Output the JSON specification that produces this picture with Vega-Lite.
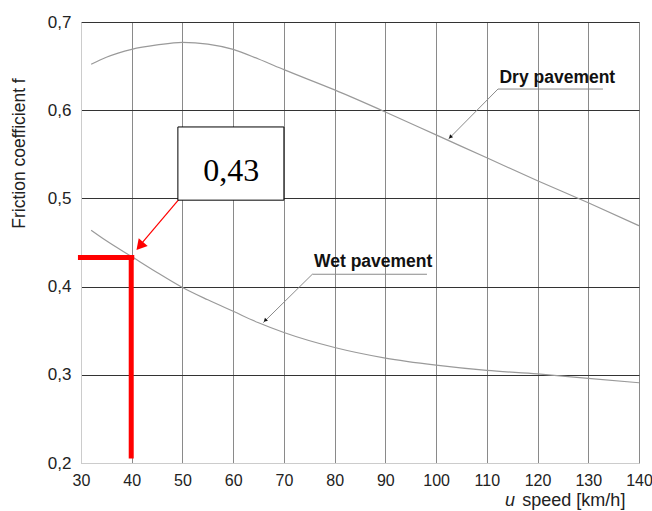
{
  "$schema": "https://vega.github.io/schema/vega-lite/v6.json",
  "width": 558,
  "height": 441,
  "autosize": {"type": "none"},
  "padding": {"left": 81, "top": 22, "right": 13, "bottom": 48},
  "background": "white",
  "config": {"view": {"stroke": "#999", "strokeWidth": 1}, "font": "Liberation Sans"},
  "datasets": {
    "curves": [
      {"speed": 32, "f": 0.652, "surface": "Dry pavement"},
      {"speed": 35, "f": 0.660, "surface": "Dry pavement"},
      {"speed": 40, "f": 0.669, "surface": "Dry pavement"},
      {"speed": 45, "f": 0.674, "surface": "Dry pavement"},
      {"speed": 50, "f": 0.677, "surface": "Dry pavement"},
      {"speed": 55, "f": 0.675, "surface": "Dry pavement"},
      {"speed": 60, "f": 0.669, "surface": "Dry pavement"},
      {"speed": 65, "f": 0.658, "surface": "Dry pavement"},
      {"speed": 70, "f": 0.646, "surface": "Dry pavement"},
      {"speed": 80, "f": 0.623, "surface": "Dry pavement"},
      {"speed": 90, "f": 0.598, "surface": "Dry pavement"},
      {"speed": 100, "f": 0.572, "surface": "Dry pavement"},
      {"speed": 110, "f": 0.546, "surface": "Dry pavement"},
      {"speed": 120, "f": 0.520, "surface": "Dry pavement"},
      {"speed": 130, "f": 0.495, "surface": "Dry pavement"},
      {"speed": 140, "f": 0.469, "surface": "Dry pavement"},
      {"speed": 32, "f": 0.464, "surface": "Wet pavement"},
      {"speed": 35, "f": 0.452, "surface": "Wet pavement"},
      {"speed": 40, "f": 0.434, "surface": "Wet pavement"},
      {"speed": 45, "f": 0.416, "surface": "Wet pavement"},
      {"speed": 50, "f": 0.399, "surface": "Wet pavement"},
      {"speed": 55, "f": 0.385, "surface": "Wet pavement"},
      {"speed": 60, "f": 0.372, "surface": "Wet pavement"},
      {"speed": 65, "f": 0.359, "surface": "Wet pavement"},
      {"speed": 70, "f": 0.348, "surface": "Wet pavement"},
      {"speed": 80, "f": 0.331, "surface": "Wet pavement"},
      {"speed": 90, "f": 0.319, "surface": "Wet pavement"},
      {"speed": 100, "f": 0.311, "surface": "Wet pavement"},
      {"speed": 110, "f": 0.305, "surface": "Wet pavement"},
      {"speed": 120, "f": 0.301, "surface": "Wet pavement"},
      {"speed": 130, "f": 0.296, "surface": "Wet pavement"},
      {"speed": 140, "f": 0.291, "surface": "Wet pavement"}
    ],
    "readout": [
      {"x": 29.4, "y": 0.433, "x2": 40.5, "y2": 0.433},
      {"x": 39.9, "y": 0.433, "x2": 39.9, "y2": 0.205}
    ],
    "pointer": [
      {"x": 49.3, "y": 0.499, "x2": 41.2, "y2": 0.444}
    ],
    "pointerHead": [
      {"x": 41.6, "y": 0.446}
    ],
    "leaders": [
      {"x": 112.2, "y": 0.624, "x2": 102.4, "y2": 0.567},
      {"x": 112.2, "y": 0.624, "x2": 132.9, "y2": 0.624},
      {"x": 75.6, "y": 0.414, "x2": 65.9, "y2": 0.359},
      {"x": 75.6, "y": 0.414, "x2": 98.2, "y2": 0.414}
    ],
    "leaderHeads": [
      {"x": 102.8, "y": 0.5695},
      {"x": 66.3, "y": 0.3615}
    ],
    "box": [
      {"x": 49.1, "y": 0.581, "x2": 70.0, "y2": 0.498, "label": "0,43", "cx": 59.6, "cy": 0.531}
    ],
    "labels": [
      {"x": 123.9, "y": 0.637, "text": "Dry pavement"},
      {"x": 87.6, "y": 0.428, "text": "Wet pavement"}
    ]
  },
  "layer": [
    {
      "data": {"name": "curves"},
      "mark": {"type": "line", "color": "#9a9a9a", "strokeWidth": 1.2, "interpolate": "monotone"},
      "encoding": {
        "x": {
          "field": "speed", "type": "quantitative",
          "scale": {"domain": [30, 140], "nice": false, "zero": false},
          "axis": {
            "values": [30, 40, 50, 60, 70, 80, 90, 100, 110, 120, 130, 140],
            "grid": true,
            "gridColor": {"condition": {"test": "datum.value == 30", "value": "#cccccc"}, "value": "#8a8a8a"},
            "gridWidth": 1,
            "domainColor": "#cccccc",
            "ticks": false,
            "labelFontSize": 16,
            "labelColor": "#222222",
            "labelPadding": 9,
            "labelFlush": false,
            "title": null
          }
        },
        "y": {
          "field": "f", "type": "quantitative",
          "scale": {"domain": [0.2, 0.7], "nice": false, "zero": false},
          "axis": {
            "values": [0.2, 0.3, 0.4, 0.5, 0.6, 0.7],
            "labelExpr": "replace(format(datum.value, '.1f'), '.', ',')",
            "grid": true,
            "gridColor": {"condition": {"test": "datum.value < 0.25", "value": "#cccccc"}, "value": "#333333"},
            "gridWidth": 1,
            "domainColor": "#cccccc",
            "ticks": false,
            "labelFontSize": 17,
            "labelColor": "#222222",
            "labelPadding": 10,
            "labelFlush": false,
            "title": "Friction coefficient f",
            "titleFontSize": 17.5,
            "titleFontWeight": "normal",
            "titleColor": "#222222",
            "titleX": -53,
            "titleY": 131
          }
        },
        "detail": {"field": "surface"}
      }
    },
    {
      "data": {"name": "readout"},
      "mark": {"type": "rule", "color": "#ff0000", "strokeWidth": 5},
      "encoding": {
        "x": {"field": "x", "type": "quantitative"},
        "y": {"field": "y", "type": "quantitative"},
        "x2": {"field": "x2"},
        "y2": {"field": "y2"}
      }
    },
    {
      "data": {"name": "pointer"},
      "mark": {"type": "rule", "color": "#ff0000", "strokeWidth": 1.2},
      "encoding": {
        "x": {"field": "x", "type": "quantitative"},
        "y": {"field": "y", "type": "quantitative"},
        "x2": {"field": "x2"},
        "y2": {"field": "y2"}
      }
    },
    {
      "data": {"name": "pointerHead"},
      "mark": {"type": "point", "shape": "triangle-up", "filled": true, "color": "#ff0000", "size": 140, "angle": 221, "opacity": 1},
      "encoding": {
        "x": {"field": "x", "type": "quantitative"},
        "y": {"field": "y", "type": "quantitative"}
      }
    },
    {
      "data": {"name": "leaders"},
      "mark": {"type": "rule", "color": "#8a8a8a", "strokeWidth": 1},
      "encoding": {
        "x": {"field": "x", "type": "quantitative"},
        "y": {"field": "y", "type": "quantitative"},
        "x2": {"field": "x2"},
        "y2": {"field": "y2"}
      }
    },
    {
      "data": {"name": "leaderHeads"},
      "mark": {"type": "point", "shape": "triangle-up", "filled": true, "color": "#111111", "size": 18, "angle": 225, "opacity": 1},
      "encoding": {
        "x": {"field": "x", "type": "quantitative"},
        "y": {"field": "y", "type": "quantitative"}
      }
    },
    {
      "data": {"name": "box"},
      "mark": {"type": "rect", "fill": "white", "stroke": "#000000", "strokeWidth": 1},
      "encoding": {
        "x": {"field": "x", "type": "quantitative"},
        "y": {"field": "y", "type": "quantitative"},
        "x2": {"field": "x2"},
        "y2": {"field": "y2"}
      }
    },
    {
      "data": {"name": "box"},
      "mark": {"type": "text", "font": "Liberation Serif", "fontSize": 32, "color": "#000000", "align": "center", "baseline": "middle"},
      "encoding": {
        "x": {"field": "cx", "type": "quantitative"},
        "y": {"field": "cy", "type": "quantitative"},
        "text": {"field": "label"}
      }
    },
    {
      "data": {"name": "labels"},
      "mark": {"type": "text", "font": "Liberation Sans", "fontSize": 17.5, "fontWeight": "bold", "color": "#111111", "align": "center", "baseline": "middle"},
      "encoding": {
        "x": {"field": "x", "type": "quantitative"},
        "y": {"field": "y", "type": "quantitative"},
        "text": {"field": "text"}
      }
    },
    {
      "data": {"values": [{"x": 113.6, "y": 0.157, "text": "u"}]},
      "mark": {"type": "text", "font": "Liberation Sans", "fontSize": 18, "fontStyle": "italic", "color": "#222222", "align": "left", "baseline": "middle"},
      "encoding": {
        "x": {"field": "x", "type": "quantitative"},
        "y": {"field": "y", "type": "quantitative"},
        "text": {"field": "text"}
      }
    },
    {
      "data": {"values": [{"x": 117.0, "y": 0.157, "text": "speed [km/h]"}]},
      "mark": {"type": "text", "font": "Liberation Sans", "fontSize": 18, "color": "#222222", "align": "left", "baseline": "middle"},
      "encoding": {
        "x": {"field": "x", "type": "quantitative"},
        "y": {"field": "y", "type": "quantitative"},
        "text": {"field": "text"}
      }
    }
  ]
}
